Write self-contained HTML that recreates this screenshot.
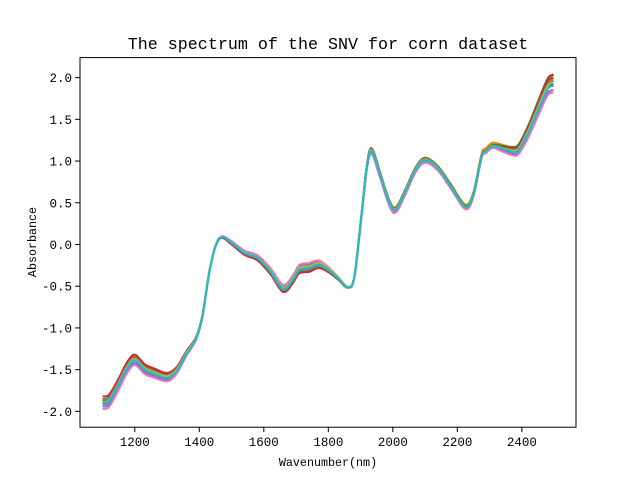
<!DOCTYPE html>
<html><head><meta charset="utf-8">
<style>
html,body{margin:0;padding:0;background:#fff;}
svg{display:block;font-family:"Liberation Mono","WenQuanYi Zen Hei",monospace;}
</style></head>
<body>
<svg id="chart" width="640" height="480" viewBox="0 0 640 480">
  <rect width="640" height="480" fill="#fff"/>
  <text x="328" y="49" text-anchor="middle" font-size="16.7">The spectrum of the SNV for corn dataset</text>
  <g id="lines"></g>
  <g id="xticks"></g>
  <g id="yticks"></g>
  <rect x="80" y="57.6" width="496" height="369.6" fill="none" stroke="#000" stroke-width="1"/>
  <text x="328" y="466" text-anchor="middle" font-size="11.7">Wavenumber(nm)</text>
  <text x="0" y="0" transform="translate(36,242) rotate(-90)" text-anchor="middle" font-size="11.7">Absorbance</text>
</svg>
<script>
const wavelengths = [1100,1120,1150,1175,1200,1230,1260,1300,1330,1360,1390,1410,1430,1450,1470,1500,1540,1580,1620,1660,1690,1710,1740,1770,1800,1830,1860,1880,1900,1920,1935,1960,1990,2010,2040,2070,2100,2140,2180,2225,2250,2275,2290,2310,2340,2370,2390,2420,2450,2480,2498];
const baseSpectrum = [-1.88,-1.86,-1.66,-1.47,-1.37,-1.48,-1.53,-1.58,-1.50,-1.30,-1.12,-0.85,-0.35,-0.02,0.09,0.02,-0.10,-0.16,-0.32,-0.53,-0.42,-0.30,-0.28,-0.24,-0.30,-0.40,-0.51,-0.40,0.25,0.95,1.13,0.85,0.50,0.43,0.65,0.90,1.02,0.92,0.70,0.45,0.60,1.05,1.12,1.18,1.15,1.12,1.14,1.35,1.62,1.88,1.92];
const anchorWavelengths = [1100,1300,1500,1750,1935,2100,2300,2498];
const devBlue   = [-0.03,-0.01,0.00,0.01,0.00,0.00,0.00,0.00];
const devOrange = [0.01,0.01,0.00,0.00,0.00,0.01,0.04,0.06];
const devGreen  = [0.03,0.02,-0.01,-0.04,0.02,0.02,0.01,0.12];
const devRed    = [0.06,0.04,-0.02,-0.05,0.02,0.01,0.00,0.11];
const devPurple = [-0.06,-0.04,0.01,0.04,-0.03,-0.03,-0.01,-0.07];
const devBrown  = [0.00,0.02,-0.01,-0.03,0.01,0.01,0.00,0.08];
const devPink   = [-0.09,-0.06,0.02,0.06,-0.05,-0.04,-0.02,-0.10];
const devGray   = [0.02,0.01,0.00,-0.02,0.01,0.00,0.00,0.04];
const devOlive  = [-0.01,0.00,0.00,0.02,0.00,0.00,0.00,0.02];
const devCyan   = [-0.02,-0.02,0.00,0.00,-0.01,-0.01,0.00,-0.02];
const seriesDevs = [devBlue,devOrange,devGreen,devRed,devPurple,devBrown,devPink,devGray,devOlive,devCyan];
const seriesColors = ["#1f77b4","#ff7f0e","#2ca02c","#d62728","#9467bd","#8c564b","#e377c2","#7f7f7f","#bcbd22","#17becf"];
const xTickLabels = [1200,1400,1600,1800,2000,2200,2400];
const yTickLabels = [-2.0,-1.5,-1.0,-0.5,0.0,0.5,1.0,1.5,2.0];

const X0=1030.1, X1=2567.9, Y0=-2.19, Y1=2.24;
const PL=80, PR=576, PT=57.6, PB=427.2;
function xs(w){return PL+(w-X0)/(X1-X0)*(PR-PL);}
function ys(v){return PB-(v-Y0)/(Y1-Y0)*(PB-PT);}
function interpDev(dev,w){
  for(let i=0;i<anchorWavelengths.length-1;i++){
    const a=anchorWavelengths[i],b=anchorWavelengths[i+1];
    if(w>=a&&w<=b){const t=(w-a)/(b-a);return dev[i]*(1-t)+dev[i+1]*t;}
  }
  return dev[dev.length-1];
}
function smoothPath(pts){
  let d="M"+pts[0][0].toFixed(2)+","+pts[0][1].toFixed(2);
  for(let i=0;i<pts.length-1;i++){
    const p0=pts[Math.max(0,i-1)],p1=pts[i],p2=pts[i+1],p3=pts[Math.min(pts.length-1,i+2)];
    const c1=[p1[0]+(p2[0]-p0[0])/6,p1[1]+(p2[1]-p0[1])/6];
    const c2=[p2[0]-(p3[0]-p1[0])/6,p2[1]-(p3[1]-p1[1])/6];
    d+="C"+c1[0].toFixed(2)+","+c1[1].toFixed(2)+" "+c2[0].toFixed(2)+","+c2[1].toFixed(2)+" "+p2[0].toFixed(2)+","+p2[1].toFixed(2);
  }
  return d;
}
const NS="http://www.w3.org/2000/svg";
const gl=document.getElementById("lines");
seriesDevs.forEach((dev,k)=>{
  const pts=wavelengths.map((w,i)=>[xs(w),ys(baseSpectrum[i]+interpDev(dev,w))]);
  const p=document.createElementNS(NS,"path");
  p.setAttribute("d",smoothPath(pts));
  p.setAttribute("fill","none");
  p.setAttribute("stroke",seriesColors[k]);
  p.setAttribute("stroke-width","2");
  p.setAttribute("stroke-linejoin","round");
  
  
  gl.appendChild(p);
});
const gx=document.getElementById("xticks");
xTickLabels.forEach(v=>{
  const x=xs(v);
  const l=document.createElementNS(NS,"line");
  l.setAttribute("x1",x);l.setAttribute("x2",x);l.setAttribute("y1",PB);l.setAttribute("y2",PB+4.9);
  l.setAttribute("stroke","#000");
  
  
  gx.appendChild(l);
  const t=document.createElementNS(NS,"text");
  t.setAttribute("x",x);t.setAttribute("y",PB+19);t.setAttribute("text-anchor","middle");t.setAttribute("font-size","12.5");
  t.textContent=String(v);
  
  
  gx.appendChild(t);
});
const gy=document.getElementById("yticks");
yTickLabels.forEach(v=>{
  const y=ys(v);
  const l=document.createElementNS(NS,"line");
  l.setAttribute("x1",PL-4.9);l.setAttribute("x2",PL);l.setAttribute("y1",y);l.setAttribute("y2",y);
  l.setAttribute("stroke","#000");
  
  
  gy.appendChild(l);
  const t=document.createElementNS(NS,"text");
  t.setAttribute("x",PL-8);t.setAttribute("y",y+4.5);t.setAttribute("text-anchor","end");t.setAttribute("font-size","12.5");
  t.textContent=v.toFixed(1);
  
  
  gy.appendChild(t);
});
</script>
</body></html>
